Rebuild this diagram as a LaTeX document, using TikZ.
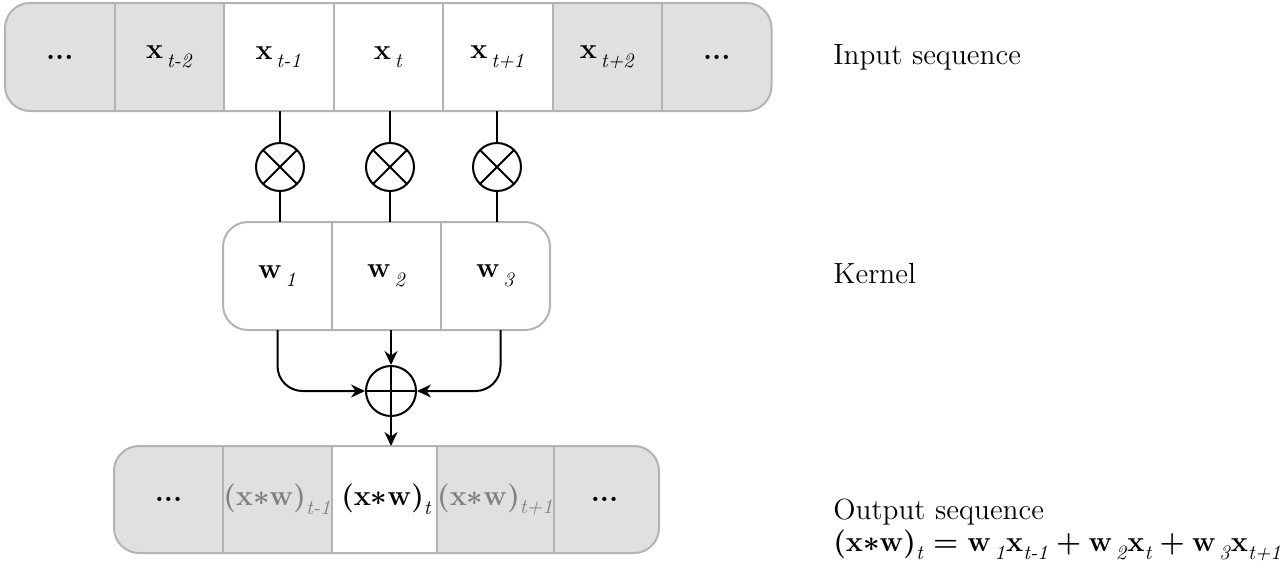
\documentclass[tikz,border=0pt]{standalone}
\usepackage{amsmath}
\usetikzlibrary{arrows.meta,backgrounds}
\definecolor{bordergray}{HTML}{B3B3B3}
\definecolor{fillgray}{HTML}{E0E0E0}
\definecolor{textgray}{HTML}{808080}
\newcommand{\sbi}[1]{\text{\raisebox{-0.2em}{\normalfont\itshape #1}}}
\begin{document}
\begin{tikzpicture}[x=0.5pt,y=-0.5pt,
  every node/.style={font=\fontsize{14.6}{17.5}\selectfont},
  cell/.style={minimum width=54.75pt, minimum height=54pt, inner sep=0pt, outer sep=0pt, font=\fontsize{14.6}{17.5}\selectfont\boldmath},
  kcell/.style={cell, minimum width=54.5pt},
  ocell/.style={cell, minimum width=54.5pt, minimum height=53.5pt},
  framed/.style={draw=bordergray, line width=1pt},
  gcell/.style={framed, fill=fillgray},
  wcell/.style={framed, fill=white},
  outline/.style={draw=bordergray, line width=1pt, rounded corners=12.5pt},
  bgfill/.style={fill=fillgray, rounded corners=12.5pt},
  conn/.style={line width=1pt, draw=black},
  arr/.style={conn, -{Stealth[length=7pt,width=6.5pt]}},
  mul/.style={circle, draw, line width=1pt, minimum size=24pt, inner sep=0pt,
    path picture={\draw[line width=1pt] (path picture bounding box.center) +(45:12pt) -- +(225:12pt)
      (path picture bounding box.center) +(135:12pt) -- +(315:12pt);}},
  add/.style={circle, draw, line width=1pt, minimum size=25pt, inner sep=0pt,
    path picture={\draw[line width=1pt] (path picture bounding box.north) -- (path picture bounding box.south)
      (path picture bounding box.west) -- (path picture bounding box.east);}},
  lbl/.style={anchor=base west, inner sep=0pt},
  formula/.style={lbl, font=\fontsize{14.6}{17.5}\selectfont\boldmath}
]
\useasboundingbox (0,0) rectangle (1282,569);

% input sequence
\node[cell] (i1) at (59.75,57) {\textbf{...}};
\node[cell,gcell] (i2) at (169.25,57) {$\mathbf{x}_{\,\sbi{t-2}}$};
\node[cell,wcell] (i3) at (278.75,57) {$\mathbf{x}_{\,\sbi{t-1}}$};
\node[cell,wcell] (i4) at (388.25,57) {$\mathbf{x}_{\,\sbi{t}}$};
\node[cell,wcell] (i5) at (497.75,57) {$\mathbf{x}_{\,\sbi{t+1}}$};
\node[cell,gcell] (i6) at (607.25,57) {$\mathbf{x}_{\,\sbi{t+2}}$};
\node[cell] (i7) at (716.75,57) {\textbf{...}};
\begin{scope}[on background layer]
  \fill[bgfill] (i1.north west) rectangle (i7.south east);
\end{scope}
\draw[outline] (i1.north west) rectangle (i7.south east);

% multipliers
\node[mul] (m1) at (280,167) {};
\node[mul] (m2) at (390,167) {};
\node[mul] (m3) at (497,167) {};
\draw[conn] (i3.south -| m1) -- (m1.north);
\draw[conn] (i4.south -| m2) -- (m2.north);
\draw[conn] (i5.south -| m3) -- (m3.north);

% kernel
\node[kcell] (k1) at (277.5,276) {$\mathbf{w}_{\,\sbi{1}}$};
\node[kcell,framed] (k2) at (386.5,276) {$\mathbf{w}_{\,\sbi{2}}$};
\node[kcell] (k3) at (495.5,276) {$\mathbf{w}_{\,\sbi{3}}$};
\draw[outline] (k1.north west) rectangle (k3.south east);
\draw[conn] (m1.south) -- (m1.south |- k1.north);
\draw[conn] (m2.south) -- (m2.south |- k2.north);
\draw[conn] (m3.south) -- (m3.south |- k3.north);

% adder
\node[add] (op) at (391,391) {};
\draw[arr] (k2.south -| op) -- (op.north);
\draw[arr, rounded corners=12.5pt] (k1.south) |- (op.west);
\draw[arr, rounded corners=12.5pt] ([xshift=2.5pt]k3.south) |- (op.east);

% output sequence
\node[ocell] (o1) at (168.5,499.5) {\textbf{...}};
\node[ocell,gcell,text=textgray] (o2) at (277.5,499.5) {$(\mathbf{x}{*}\mathbf{w})_{\sbi{t-1}}$};
\node[ocell,wcell] (o3) at (386.5,499.5) {$(\mathbf{x}{*}\mathbf{w})_{\sbi{t}}$};
\node[ocell,gcell,text=textgray] (o4) at (495.5,499.5) {$(\mathbf{x}{*}\mathbf{w})_{\sbi{t+1}}$};
\node[ocell] (o5) at (604.5,499.5) {\textbf{...}};
\begin{scope}[on background layer]
  \fill[bgfill] (o1.north west) rectangle (o5.south east);
\end{scope}
\draw[outline] (o1.north west) rectangle (o5.south east);
\draw[arr] (op.south) -- (op |- o3.north);

% labels
\node[lbl] (lin) at (833,64) {Input sequence};
\node[lbl] (lk) at (833,283) {Kernel};
\node[lbl] (lout) at (833,519) {Output sequence};
\node[formula] (lf) at (833,551) {$(\mathbf{x}{*}\mathbf{w})_{\sbi{t}} = \mathbf{w}_{\,\sbi{1}}\mathbf{x}_{\sbi{t-1}} + \mathbf{w}_{\,\sbi{2}}\mathbf{x}_{\sbi{t}} + \mathbf{w}_{\,\sbi{3}}\mathbf{x}_{\sbi{t+1}}$};
\end{tikzpicture}
\end{document}
